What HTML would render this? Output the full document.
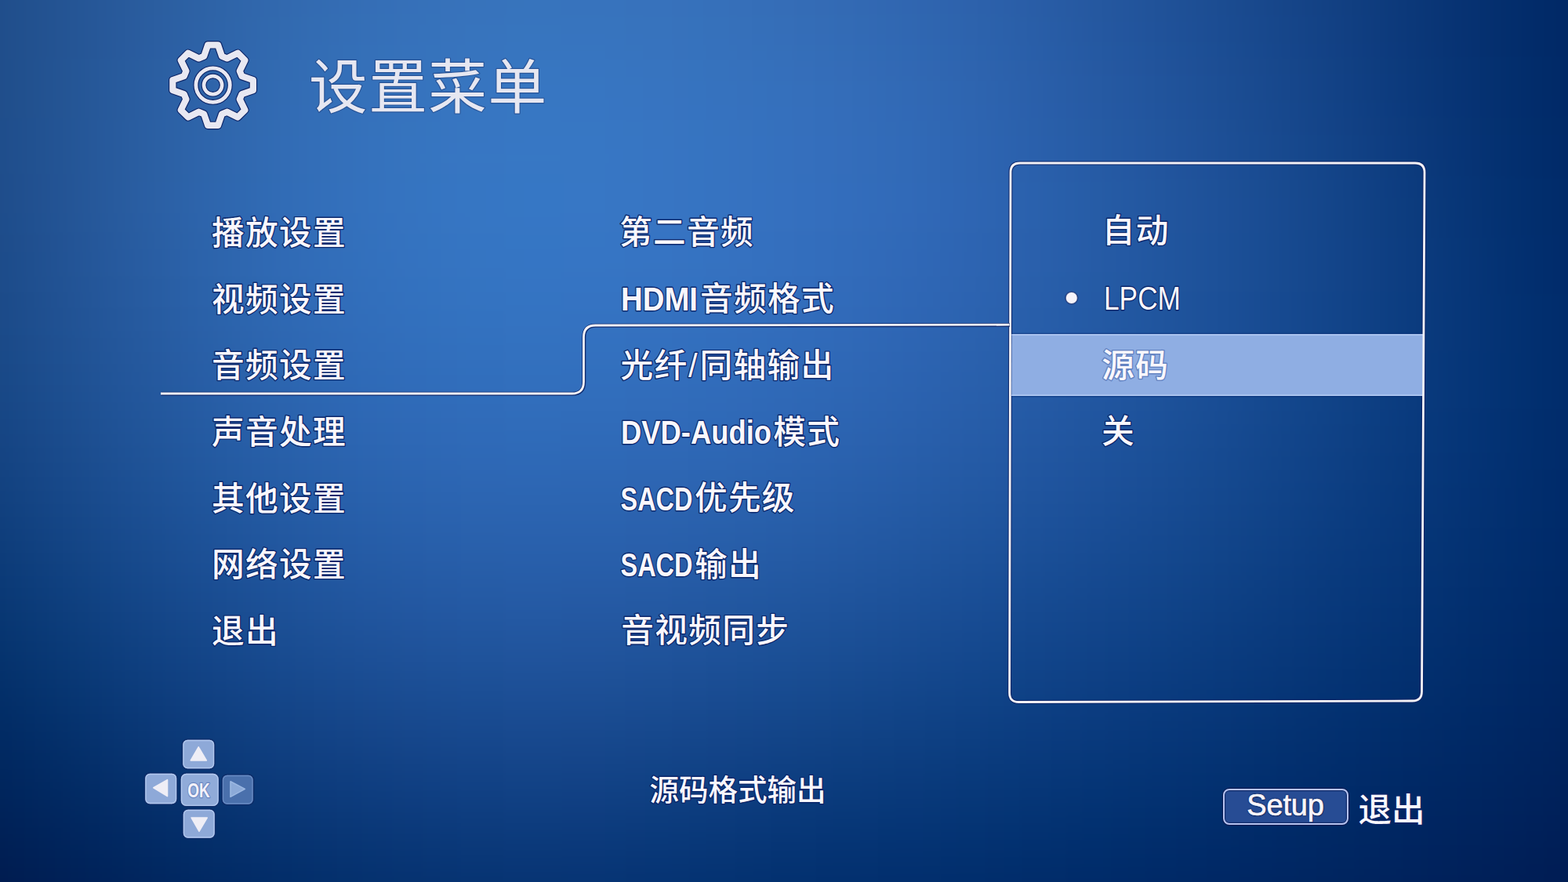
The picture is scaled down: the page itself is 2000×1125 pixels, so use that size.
<!DOCTYPE html>
<html><head><meta charset="utf-8"><title>Setup Menu</title>
<style>
html,body{margin:0;padding:0;background:#062a66;}
body{width:2000px;height:1125px;overflow:hidden;position:relative;font-family:"Liberation Sans",sans-serif;}
#bg{position:absolute;left:0;top:0;width:2000px;height:1125px;background:#1c4a8c;}
svg{position:absolute;left:0;top:0;}
svg text{font-family:"Liberation Sans","Noto Sans CJK SC",sans-serif;paint-order:stroke;stroke-linejoin:round;}
.t{font-size:41.7px;font-weight:500;letter-spacing:1.3px;fill:#f9f7fc;stroke:#0a2468;stroke-opacity:.92;stroke-width:2.8px;}
.lb{font-weight:bold;letter-spacing:0;}
.lr{font-weight:normal;letter-spacing:0;}
.thl{font-size:41.7px;font-weight:500;letter-spacing:1.3px;fill:#f9f7fc;stroke:#5f7fbe;stroke-opacity:.9;stroke-width:3px;}
.tt{font-size:74.7px;font-weight:normal;letter-spacing:1.5px;fill:#e6e7f1;stroke:#20407e;stroke-opacity:.6;stroke-width:2.4px;}
.tb{font-size:37.5px;font-weight:500;fill:#f9f7fc;stroke:#0a2468;stroke-opacity:.92;stroke-width:2.8px;}
.tr{font-size:42.5px;font-weight:500;fill:#f9f7fc;stroke:#0a2468;stroke-opacity:.92;stroke-width:2.8px;}
.tok{font-size:26px;font-weight:bold;fill:#f4f1f9;stroke:#6c88c2;stroke-width:2.6px;}
#setup{position:absolute;left:1559.5px;top:1006px;width:156.5px;height:42.4px;line-height:39px;text-align:center;font-size:38px;color:#f8f5fa;
 border:2px solid #b6c2ef;border-radius:8px;background:#274c94;box-shadow:0 0 0 1.2px rgba(8,22,76,.8), inset 0 0 0 1.2px rgba(8,22,76,.55);
 -webkit-text-stroke:.7px #f8f5fa;letter-spacing:-.2px;text-indent:-.5px;
 text-shadow:0 0 1.5px #081a50,0 0 1.5px #081a50,0 0 2px #081a50,.5px .5px 1px #081a50;}
#sr{position:absolute;left:0;top:0;width:1px;height:1px;overflow:hidden;opacity:0;font-size:1px;pointer-events:none;}
</style></head><body>
<div id="bg"></div>
<svg width="2000" height="1125" viewBox="0 0 2000 1125">
<defs><filter id="bgb" filterUnits="userSpaceOnUse" x="-160" y="-150" width="2320" height="1425" color-interpolation-filters="sRGB"><feGaussianBlur stdDeviation="42"/></filter>
</defs>
<g filter="url(#bgb)" shape-rendering="crispEdges"><rect x="-160" y="-150" width="81" height="76" fill="#1e4b86"/><rect x="-80" y="-150" width="81" height="76" fill="#1f4c87"/><rect x="0" y="-150" width="81" height="76" fill="#23518f"/><rect x="80" y="-150" width="81" height="76" fill="#265796"/><rect x="160" y="-150" width="81" height="76" fill="#2a5d9e"/><rect x="240" y="-150" width="81" height="76" fill="#2e63a6"/><rect x="320" y="-150" width="81" height="76" fill="#3167ac"/><rect x="400" y="-150" width="81" height="76" fill="#336cb1"/><rect x="480" y="-150" width="81" height="76" fill="#356fb5"/><rect x="560" y="-150" width="81" height="76" fill="#3671b8"/><rect x="640" y="-150" width="81" height="76" fill="#3772ba"/><rect x="720" y="-150" width="81" height="76" fill="#3671ba"/><rect x="800" y="-150" width="81" height="76" fill="#3670b9"/><rect x="880" y="-150" width="81" height="76" fill="#356eb7"/><rect x="960" y="-150" width="81" height="76" fill="#346bb4"/><rect x="1040" y="-150" width="81" height="76" fill="#3268b1"/><rect x="1120" y="-150" width="81" height="76" fill="#2f65ae"/><rect x="1200" y="-150" width="81" height="76" fill="#2c61a9"/><rect x="1280" y="-150" width="81" height="76" fill="#285ca4"/><rect x="1360" y="-150" width="81" height="76" fill="#24569d"/><rect x="1440" y="-150" width="81" height="76" fill="#1f5096"/><rect x="1520" y="-150" width="81" height="76" fill="#1a4a8f"/><rect x="1600" y="-150" width="81" height="76" fill="#154487"/><rect x="1680" y="-150" width="81" height="76" fill="#103e7f"/><rect x="1760" y="-150" width="81" height="76" fill="#0b3777"/><rect x="1840" y="-150" width="81" height="76" fill="#063170"/><rect x="1920" y="-150" width="81" height="76" fill="#022b69"/><rect x="2000" y="-150" width="81" height="76" fill="#002662"/><rect x="2080" y="-150" width="81" height="76" fill="#002561"/><rect x="-160" y="-75" width="81" height="76" fill="#1e4a85"/><rect x="-80" y="-75" width="81" height="76" fill="#1f4c87"/><rect x="0" y="-75" width="81" height="76" fill="#22518f"/><rect x="80" y="-75" width="81" height="76" fill="#265797"/><rect x="160" y="-75" width="81" height="76" fill="#2a5d9f"/><rect x="240" y="-75" width="81" height="76" fill="#2e63a6"/><rect x="320" y="-75" width="81" height="76" fill="#3168ad"/><rect x="400" y="-75" width="81" height="76" fill="#346cb2"/><rect x="480" y="-75" width="81" height="76" fill="#356fb7"/><rect x="560" y="-75" width="81" height="76" fill="#3671b9"/><rect x="640" y="-75" width="81" height="76" fill="#3772bb"/><rect x="720" y="-75" width="81" height="76" fill="#3772bb"/><rect x="800" y="-75" width="81" height="76" fill="#3671ba"/><rect x="880" y="-75" width="81" height="76" fill="#356fb8"/><rect x="960" y="-75" width="81" height="76" fill="#346cb5"/><rect x="1040" y="-75" width="81" height="76" fill="#3269b2"/><rect x="1120" y="-75" width="81" height="76" fill="#2f65af"/><rect x="1200" y="-75" width="81" height="76" fill="#2c61aa"/><rect x="1280" y="-75" width="81" height="76" fill="#285ca5"/><rect x="1360" y="-75" width="81" height="76" fill="#24579e"/><rect x="1440" y="-75" width="81" height="76" fill="#1f5197"/><rect x="1520" y="-75" width="81" height="76" fill="#1b4b90"/><rect x="1600" y="-75" width="81" height="76" fill="#164488"/><rect x="1680" y="-75" width="81" height="76" fill="#103e80"/><rect x="1760" y="-75" width="81" height="76" fill="#0b3778"/><rect x="1840" y="-75" width="81" height="76" fill="#063170"/><rect x="1920" y="-75" width="81" height="76" fill="#022b69"/><rect x="2000" y="-75" width="81" height="76" fill="#002662"/><rect x="2080" y="-75" width="81" height="76" fill="#002561"/><rect x="-160" y="0" width="81" height="76" fill="#1d4a85"/><rect x="-80" y="0" width="81" height="76" fill="#1e4b87"/><rect x="0" y="0" width="81" height="76" fill="#22518f"/><rect x="80" y="0" width="81" height="76" fill="#265798"/><rect x="160" y="0" width="81" height="76" fill="#2b5ea1"/><rect x="240" y="0" width="81" height="76" fill="#2e64a9"/><rect x="320" y="0" width="81" height="76" fill="#326ab0"/><rect x="400" y="0" width="81" height="76" fill="#346eb6"/><rect x="480" y="0" width="81" height="76" fill="#3671ba"/><rect x="560" y="0" width="81" height="76" fill="#3774bd"/><rect x="640" y="0" width="81" height="76" fill="#3775be"/><rect x="720" y="0" width="81" height="76" fill="#3774be"/><rect x="800" y="0" width="81" height="76" fill="#3773bd"/><rect x="880" y="0" width="81" height="76" fill="#3671bb"/><rect x="960" y="0" width="81" height="76" fill="#356eb8"/><rect x="1040" y="0" width="81" height="76" fill="#336bb5"/><rect x="1120" y="0" width="81" height="76" fill="#3067b2"/><rect x="1200" y="0" width="81" height="76" fill="#2d63ad"/><rect x="1280" y="0" width="81" height="76" fill="#295ea8"/><rect x="1360" y="0" width="81" height="76" fill="#2558a1"/><rect x="1440" y="0" width="81" height="76" fill="#20529a"/><rect x="1520" y="0" width="81" height="76" fill="#1b4c92"/><rect x="1600" y="0" width="81" height="76" fill="#16468a"/><rect x="1680" y="0" width="81" height="76" fill="#113f82"/><rect x="1760" y="0" width="81" height="76" fill="#0b3879"/><rect x="1840" y="0" width="81" height="76" fill="#063171"/><rect x="1920" y="0" width="81" height="76" fill="#012b69"/><rect x="2000" y="0" width="81" height="76" fill="#002663"/><rect x="2080" y="0" width="81" height="76" fill="#002561"/><rect x="-160" y="75" width="81" height="76" fill="#1c4985"/><rect x="-80" y="75" width="81" height="76" fill="#1d4b87"/><rect x="0" y="75" width="81" height="76" fill="#22518f"/><rect x="80" y="75" width="81" height="76" fill="#265899"/><rect x="160" y="75" width="81" height="76" fill="#2b5fa3"/><rect x="240" y="75" width="81" height="76" fill="#2f65ab"/><rect x="320" y="75" width="81" height="76" fill="#326bb3"/><rect x="400" y="75" width="81" height="76" fill="#3470b9"/><rect x="480" y="75" width="81" height="76" fill="#3673bd"/><rect x="560" y="75" width="81" height="76" fill="#3775c0"/><rect x="640" y="75" width="81" height="76" fill="#3776c2"/><rect x="720" y="75" width="81" height="76" fill="#3776c2"/><rect x="800" y="75" width="81" height="76" fill="#3774c0"/><rect x="880" y="75" width="81" height="76" fill="#3672be"/><rect x="960" y="75" width="81" height="76" fill="#3570bc"/><rect x="1040" y="75" width="81" height="76" fill="#346db9"/><rect x="1120" y="75" width="81" height="76" fill="#3169b5"/><rect x="1200" y="75" width="81" height="76" fill="#2e65b0"/><rect x="1280" y="75" width="81" height="76" fill="#2a5faa"/><rect x="1360" y="75" width="81" height="76" fill="#265aa3"/><rect x="1440" y="75" width="81" height="76" fill="#21549c"/><rect x="1520" y="75" width="81" height="76" fill="#1c4e94"/><rect x="1600" y="75" width="81" height="76" fill="#17478c"/><rect x="1680" y="75" width="81" height="76" fill="#114084"/><rect x="1760" y="75" width="81" height="76" fill="#0b397b"/><rect x="1840" y="75" width="81" height="76" fill="#063272"/><rect x="1920" y="75" width="81" height="76" fill="#012c6a"/><rect x="2000" y="75" width="81" height="76" fill="#002663"/><rect x="2080" y="75" width="81" height="76" fill="#002562"/><rect x="-160" y="150" width="81" height="76" fill="#1c4984"/><rect x="-80" y="150" width="81" height="76" fill="#1d4a87"/><rect x="0" y="150" width="81" height="76" fill="#215190"/><rect x="80" y="150" width="81" height="76" fill="#26589a"/><rect x="160" y="150" width="81" height="76" fill="#2b60a4"/><rect x="240" y="150" width="81" height="76" fill="#2f66ad"/><rect x="320" y="150" width="81" height="76" fill="#326cb5"/><rect x="400" y="150" width="81" height="76" fill="#3470bb"/><rect x="480" y="150" width="81" height="76" fill="#3674bf"/><rect x="560" y="150" width="81" height="76" fill="#3777c3"/><rect x="640" y="150" width="81" height="76" fill="#3778c4"/><rect x="720" y="150" width="81" height="76" fill="#3777c4"/><rect x="800" y="150" width="81" height="76" fill="#3775c3"/><rect x="880" y="150" width="81" height="76" fill="#3673c0"/><rect x="960" y="150" width="81" height="76" fill="#3570be"/><rect x="1040" y="150" width="81" height="76" fill="#346dbb"/><rect x="1120" y="150" width="81" height="76" fill="#316ab7"/><rect x="1200" y="150" width="81" height="76" fill="#2e65b2"/><rect x="1280" y="150" width="81" height="76" fill="#2a60ac"/><rect x="1360" y="150" width="81" height="76" fill="#265ba5"/><rect x="1440" y="150" width="81" height="76" fill="#22559e"/><rect x="1520" y="150" width="81" height="76" fill="#1d4f96"/><rect x="1600" y="150" width="81" height="76" fill="#17498e"/><rect x="1680" y="150" width="81" height="76" fill="#124286"/><rect x="1760" y="150" width="81" height="76" fill="#0c3a7d"/><rect x="1840" y="150" width="81" height="76" fill="#063374"/><rect x="1920" y="150" width="81" height="76" fill="#012d6c"/><rect x="2000" y="150" width="81" height="76" fill="#002765"/><rect x="2080" y="150" width="81" height="76" fill="#002663"/><rect x="-160" y="225" width="81" height="76" fill="#1b4884"/><rect x="-80" y="225" width="81" height="76" fill="#1c4a86"/><rect x="0" y="225" width="81" height="76" fill="#215090"/><rect x="80" y="225" width="81" height="76" fill="#26589a"/><rect x="160" y="225" width="81" height="76" fill="#2b60a5"/><rect x="240" y="225" width="81" height="76" fill="#2e66ae"/><rect x="320" y="225" width="81" height="76" fill="#316cb6"/><rect x="400" y="225" width="81" height="76" fill="#3470bc"/><rect x="480" y="225" width="81" height="76" fill="#3574c0"/><rect x="560" y="225" width="81" height="76" fill="#3676c4"/><rect x="640" y="225" width="81" height="76" fill="#3677c5"/><rect x="720" y="225" width="81" height="76" fill="#3777c5"/><rect x="800" y="225" width="81" height="76" fill="#3775c3"/><rect x="880" y="225" width="81" height="76" fill="#3673c1"/><rect x="960" y="225" width="81" height="76" fill="#3570bf"/><rect x="1040" y="225" width="81" height="76" fill="#336dbc"/><rect x="1120" y="225" width="81" height="76" fill="#316ab8"/><rect x="1200" y="225" width="81" height="76" fill="#2e65b3"/><rect x="1280" y="225" width="81" height="76" fill="#2a61ad"/><rect x="1360" y="225" width="81" height="76" fill="#265ca6"/><rect x="1440" y="225" width="81" height="76" fill="#22569f"/><rect x="1520" y="225" width="81" height="76" fill="#1d5098"/><rect x="1600" y="225" width="81" height="76" fill="#184a90"/><rect x="1680" y="225" width="81" height="76" fill="#124387"/><rect x="1760" y="225" width="81" height="76" fill="#0c3c7e"/><rect x="1840" y="225" width="81" height="76" fill="#063475"/><rect x="1920" y="225" width="81" height="76" fill="#012e6d"/><rect x="2000" y="225" width="81" height="76" fill="#002866"/><rect x="2080" y="225" width="81" height="76" fill="#002664"/><rect x="-160" y="300" width="81" height="76" fill="#194783"/><rect x="-80" y="300" width="81" height="76" fill="#1a4885"/><rect x="0" y="300" width="81" height="76" fill="#1f4f8f"/><rect x="80" y="300" width="81" height="76" fill="#25579a"/><rect x="160" y="300" width="81" height="76" fill="#295ea4"/><rect x="240" y="300" width="81" height="76" fill="#2d65ad"/><rect x="320" y="300" width="81" height="76" fill="#306ab5"/><rect x="400" y="300" width="81" height="76" fill="#326fbb"/><rect x="480" y="300" width="81" height="76" fill="#3472c0"/><rect x="560" y="300" width="81" height="76" fill="#3575c2"/><rect x="640" y="300" width="81" height="76" fill="#3575c4"/><rect x="720" y="300" width="81" height="76" fill="#3675c4"/><rect x="800" y="300" width="81" height="76" fill="#3674c3"/><rect x="880" y="300" width="81" height="76" fill="#3572c1"/><rect x="960" y="300" width="81" height="76" fill="#346fbe"/><rect x="1040" y="300" width="81" height="76" fill="#326cbb"/><rect x="1120" y="300" width="81" height="76" fill="#3068b7"/><rect x="1200" y="300" width="81" height="76" fill="#2d64b2"/><rect x="1280" y="300" width="81" height="76" fill="#2a60ac"/><rect x="1360" y="300" width="81" height="76" fill="#265ba6"/><rect x="1440" y="300" width="81" height="76" fill="#21569f"/><rect x="1520" y="300" width="81" height="76" fill="#1c5098"/><rect x="1600" y="300" width="81" height="76" fill="#174a90"/><rect x="1680" y="300" width="81" height="76" fill="#124388"/><rect x="1760" y="300" width="81" height="76" fill="#0c3c7f"/><rect x="1840" y="300" width="81" height="76" fill="#063577"/><rect x="1920" y="300" width="81" height="76" fill="#012e6e"/><rect x="2000" y="300" width="81" height="76" fill="#002867"/><rect x="2080" y="300" width="81" height="76" fill="#002765"/><rect x="-160" y="375" width="81" height="76" fill="#174581"/><rect x="-80" y="375" width="81" height="76" fill="#194784"/><rect x="0" y="375" width="81" height="76" fill="#1e4e8e"/><rect x="80" y="375" width="81" height="76" fill="#235598"/><rect x="160" y="375" width="81" height="76" fill="#275ca2"/><rect x="240" y="375" width="81" height="76" fill="#2b63ab"/><rect x="320" y="375" width="81" height="76" fill="#2e68b3"/><rect x="400" y="375" width="81" height="76" fill="#316cb9"/><rect x="480" y="375" width="81" height="76" fill="#3270bd"/><rect x="560" y="375" width="81" height="76" fill="#3372c0"/><rect x="640" y="375" width="81" height="76" fill="#3473c1"/><rect x="720" y="375" width="81" height="76" fill="#3472c1"/><rect x="800" y="375" width="81" height="76" fill="#3471c0"/><rect x="880" y="375" width="81" height="76" fill="#336fbe"/><rect x="960" y="375" width="81" height="76" fill="#326dbc"/><rect x="1040" y="375" width="81" height="76" fill="#316ab9"/><rect x="1120" y="375" width="81" height="76" fill="#2e66b4"/><rect x="1200" y="375" width="81" height="76" fill="#2c63b0"/><rect x="1280" y="375" width="81" height="76" fill="#285eaa"/><rect x="1360" y="375" width="81" height="76" fill="#245aa4"/><rect x="1440" y="375" width="81" height="76" fill="#20559e"/><rect x="1520" y="375" width="81" height="76" fill="#1b4f97"/><rect x="1600" y="375" width="81" height="76" fill="#164990"/><rect x="1680" y="375" width="81" height="76" fill="#114388"/><rect x="1760" y="375" width="81" height="76" fill="#0b3c7f"/><rect x="1840" y="375" width="81" height="76" fill="#063577"/><rect x="1920" y="375" width="81" height="76" fill="#012f6f"/><rect x="2000" y="375" width="81" height="76" fill="#002968"/><rect x="2080" y="375" width="81" height="76" fill="#002766"/><rect x="-160" y="450" width="81" height="76" fill="#15437f"/><rect x="-80" y="450" width="81" height="76" fill="#164582"/><rect x="0" y="450" width="81" height="76" fill="#1b4c8c"/><rect x="80" y="450" width="81" height="76" fill="#205396"/><rect x="160" y="450" width="81" height="76" fill="#25599f"/><rect x="240" y="450" width="81" height="76" fill="#295fa8"/><rect x="320" y="450" width="81" height="76" fill="#2c65af"/><rect x="400" y="450" width="81" height="76" fill="#2e69b6"/><rect x="480" y="450" width="81" height="76" fill="#306cba"/><rect x="560" y="450" width="81" height="76" fill="#316ebc"/><rect x="640" y="450" width="81" height="76" fill="#326fbd"/><rect x="720" y="450" width="81" height="76" fill="#326fbd"/><rect x="800" y="450" width="81" height="76" fill="#326ebc"/><rect x="880" y="450" width="81" height="76" fill="#316cbb"/><rect x="960" y="450" width="81" height="76" fill="#306ab8"/><rect x="1040" y="450" width="81" height="76" fill="#2e67b5"/><rect x="1120" y="450" width="81" height="76" fill="#2c63b1"/><rect x="1200" y="450" width="81" height="76" fill="#2960ac"/><rect x="1280" y="450" width="81" height="76" fill="#265ca7"/><rect x="1360" y="450" width="81" height="76" fill="#2257a2"/><rect x="1440" y="450" width="81" height="76" fill="#1e539c"/><rect x="1520" y="450" width="81" height="76" fill="#194d95"/><rect x="1600" y="450" width="81" height="76" fill="#14488e"/><rect x="1680" y="450" width="81" height="76" fill="#0f4286"/><rect x="1760" y="450" width="81" height="76" fill="#0a3b7f"/><rect x="1840" y="450" width="81" height="76" fill="#053577"/><rect x="1920" y="450" width="81" height="76" fill="#012f6f"/><rect x="2000" y="450" width="81" height="76" fill="#002968"/><rect x="2080" y="450" width="81" height="76" fill="#002866"/><rect x="-160" y="525" width="81" height="76" fill="#12407c"/><rect x="-80" y="525" width="81" height="76" fill="#13417f"/><rect x="0" y="525" width="81" height="76" fill="#184888"/><rect x="80" y="525" width="81" height="76" fill="#1d4f92"/><rect x="160" y="525" width="81" height="76" fill="#21569b"/><rect x="240" y="525" width="81" height="76" fill="#255ca4"/><rect x="320" y="525" width="81" height="76" fill="#2961ab"/><rect x="400" y="525" width="81" height="76" fill="#2c65b1"/><rect x="480" y="525" width="81" height="76" fill="#2e68b5"/><rect x="560" y="525" width="81" height="76" fill="#2f6ab8"/><rect x="640" y="525" width="81" height="76" fill="#2f6bb9"/><rect x="720" y="525" width="81" height="76" fill="#2f6ab8"/><rect x="800" y="525" width="81" height="76" fill="#2f69b7"/><rect x="880" y="525" width="81" height="76" fill="#2e68b6"/><rect x="960" y="525" width="81" height="76" fill="#2d65b3"/><rect x="1040" y="525" width="81" height="76" fill="#2b63b0"/><rect x="1120" y="525" width="81" height="76" fill="#2960ac"/><rect x="1200" y="525" width="81" height="76" fill="#265ca8"/><rect x="1280" y="525" width="81" height="76" fill="#2358a3"/><rect x="1360" y="525" width="81" height="76" fill="#1f549e"/><rect x="1440" y="525" width="81" height="76" fill="#1b5098"/><rect x="1520" y="525" width="81" height="76" fill="#174b92"/><rect x="1600" y="525" width="81" height="76" fill="#12458b"/><rect x="1680" y="525" width="81" height="76" fill="#0e4084"/><rect x="1760" y="525" width="81" height="76" fill="#093a7d"/><rect x="1840" y="525" width="81" height="76" fill="#043476"/><rect x="1920" y="525" width="81" height="76" fill="#012e6e"/><rect x="2000" y="525" width="81" height="76" fill="#002967"/><rect x="2080" y="525" width="81" height="76" fill="#002766"/><rect x="-160" y="600" width="81" height="76" fill="#0e3c78"/><rect x="-80" y="600" width="81" height="76" fill="#0f3e7a"/><rect x="0" y="600" width="81" height="76" fill="#144484"/><rect x="80" y="600" width="81" height="76" fill="#194b8d"/><rect x="160" y="600" width="81" height="76" fill="#1d5196"/><rect x="240" y="600" width="81" height="76" fill="#21579e"/><rect x="320" y="600" width="81" height="76" fill="#255ca5"/><rect x="400" y="600" width="81" height="76" fill="#2860ab"/><rect x="480" y="600" width="81" height="76" fill="#2a63af"/><rect x="560" y="600" width="81" height="76" fill="#2c65b2"/><rect x="640" y="600" width="81" height="76" fill="#2c65b2"/><rect x="720" y="600" width="81" height="76" fill="#2c65b2"/><rect x="800" y="600" width="81" height="76" fill="#2c64b1"/><rect x="880" y="600" width="81" height="76" fill="#2b63af"/><rect x="960" y="600" width="81" height="76" fill="#2961ad"/><rect x="1040" y="600" width="81" height="76" fill="#275eaa"/><rect x="1120" y="600" width="81" height="76" fill="#255ba6"/><rect x="1200" y="600" width="81" height="76" fill="#2258a2"/><rect x="1280" y="600" width="81" height="76" fill="#1f549e"/><rect x="1360" y="600" width="81" height="76" fill="#1c5099"/><rect x="1440" y="600" width="81" height="76" fill="#184c94"/><rect x="1520" y="600" width="81" height="76" fill="#14488e"/><rect x="1600" y="600" width="81" height="76" fill="#104388"/><rect x="1680" y="600" width="81" height="76" fill="#0c3d81"/><rect x="1760" y="600" width="81" height="76" fill="#07387b"/><rect x="1840" y="600" width="81" height="76" fill="#043274"/><rect x="1920" y="600" width="81" height="76" fill="#002d6d"/><rect x="2000" y="600" width="81" height="76" fill="#002866"/><rect x="2080" y="600" width="81" height="76" fill="#002765"/><rect x="-160" y="675" width="81" height="76" fill="#0a3772"/><rect x="-80" y="675" width="81" height="76" fill="#0b3975"/><rect x="0" y="675" width="81" height="76" fill="#0f3f7e"/><rect x="80" y="675" width="81" height="76" fill="#144687"/><rect x="160" y="675" width="81" height="76" fill="#194c90"/><rect x="240" y="675" width="81" height="76" fill="#1d5198"/><rect x="320" y="675" width="81" height="76" fill="#21569e"/><rect x="400" y="675" width="81" height="76" fill="#245aa4"/><rect x="480" y="675" width="81" height="76" fill="#265da8"/><rect x="560" y="675" width="81" height="76" fill="#285faa"/><rect x="640" y="675" width="81" height="76" fill="#285fab"/><rect x="720" y="675" width="81" height="76" fill="#285fab"/><rect x="800" y="675" width="81" height="76" fill="#285eaa"/><rect x="880" y="675" width="81" height="76" fill="#265da8"/><rect x="960" y="675" width="81" height="76" fill="#255ba5"/><rect x="1040" y="675" width="81" height="76" fill="#2358a2"/><rect x="1120" y="675" width="81" height="76" fill="#20569f"/><rect x="1200" y="675" width="81" height="76" fill="#1d529b"/><rect x="1280" y="675" width="81" height="76" fill="#1a4f97"/><rect x="1360" y="675" width="81" height="76" fill="#174b93"/><rect x="1440" y="675" width="81" height="76" fill="#14488e"/><rect x="1520" y="675" width="81" height="76" fill="#114489"/><rect x="1600" y="675" width="81" height="76" fill="#0d3f83"/><rect x="1680" y="675" width="81" height="76" fill="#093a7e"/><rect x="1760" y="675" width="81" height="76" fill="#063677"/><rect x="1840" y="675" width="81" height="76" fill="#033171"/><rect x="1920" y="675" width="81" height="76" fill="#002c6b"/><rect x="2000" y="675" width="81" height="76" fill="#002765"/><rect x="2080" y="675" width="81" height="76" fill="#002663"/><rect x="-160" y="750" width="81" height="76" fill="#05326c"/><rect x="-80" y="750" width="81" height="76" fill="#06346e"/><rect x="0" y="750" width="81" height="76" fill="#0a3a77"/><rect x="80" y="750" width="81" height="76" fill="#0f4080"/><rect x="160" y="750" width="81" height="76" fill="#144688"/><rect x="240" y="750" width="81" height="76" fill="#184b90"/><rect x="320" y="750" width="81" height="76" fill="#1c5096"/><rect x="400" y="750" width="81" height="76" fill="#1f549c"/><rect x="480" y="750" width="81" height="76" fill="#2256a0"/><rect x="560" y="750" width="81" height="76" fill="#2358a2"/><rect x="640" y="750" width="81" height="76" fill="#2459a3"/><rect x="720" y="750" width="81" height="76" fill="#2458a2"/><rect x="800" y="750" width="81" height="76" fill="#2358a1"/><rect x="880" y="750" width="81" height="76" fill="#21569f"/><rect x="960" y="750" width="81" height="76" fill="#1f549c"/><rect x="1040" y="750" width="81" height="76" fill="#1d529a"/><rect x="1120" y="750" width="81" height="76" fill="#1b4f97"/><rect x="1200" y="750" width="81" height="76" fill="#184c94"/><rect x="1280" y="750" width="81" height="76" fill="#154990"/><rect x="1360" y="750" width="81" height="76" fill="#13468c"/><rect x="1440" y="750" width="81" height="76" fill="#104388"/><rect x="1520" y="750" width="81" height="76" fill="#0d3f83"/><rect x="1600" y="750" width="81" height="76" fill="#0a3b7e"/><rect x="1680" y="750" width="81" height="76" fill="#073779"/><rect x="1760" y="750" width="81" height="76" fill="#043374"/><rect x="1840" y="750" width="81" height="76" fill="#022e6e"/><rect x="1920" y="750" width="81" height="76" fill="#002a68"/><rect x="2000" y="750" width="81" height="76" fill="#002662"/><rect x="2080" y="750" width="81" height="76" fill="#002461"/><rect x="-160" y="825" width="81" height="76" fill="#012d65"/><rect x="-80" y="825" width="81" height="76" fill="#022e67"/><rect x="0" y="825" width="81" height="76" fill="#06346f"/><rect x="80" y="825" width="81" height="76" fill="#0a3a78"/><rect x="160" y="825" width="81" height="76" fill="#0f3f80"/><rect x="240" y="825" width="81" height="76" fill="#134487"/><rect x="320" y="825" width="81" height="76" fill="#17498d"/><rect x="400" y="825" width="81" height="76" fill="#1a4c92"/><rect x="480" y="825" width="81" height="76" fill="#1c4f96"/><rect x="560" y="825" width="81" height="76" fill="#1d5198"/><rect x="640" y="825" width="81" height="76" fill="#1e5199"/><rect x="720" y="825" width="81" height="76" fill="#1e5199"/><rect x="800" y="825" width="81" height="76" fill="#1d5097"/><rect x="880" y="825" width="81" height="76" fill="#1b4e95"/><rect x="960" y="825" width="81" height="76" fill="#194d93"/><rect x="1040" y="825" width="81" height="76" fill="#174b90"/><rect x="1120" y="825" width="81" height="76" fill="#15488e"/><rect x="1200" y="825" width="81" height="76" fill="#12468b"/><rect x="1280" y="825" width="81" height="76" fill="#104388"/><rect x="1360" y="825" width="81" height="76" fill="#0e4085"/><rect x="1440" y="825" width="81" height="76" fill="#0b3d81"/><rect x="1520" y="825" width="81" height="76" fill="#093a7d"/><rect x="1600" y="825" width="81" height="76" fill="#073779"/><rect x="1680" y="825" width="81" height="76" fill="#043374"/><rect x="1760" y="825" width="81" height="76" fill="#03306f"/><rect x="1840" y="825" width="81" height="76" fill="#012c6a"/><rect x="1920" y="825" width="81" height="76" fill="#002865"/><rect x="2000" y="825" width="81" height="76" fill="#00245f"/><rect x="2080" y="825" width="81" height="76" fill="#00235e"/><rect x="-160" y="900" width="81" height="76" fill="#00275e"/><rect x="-80" y="900" width="81" height="76" fill="#002860"/><rect x="0" y="900" width="81" height="76" fill="#022d67"/><rect x="80" y="900" width="81" height="76" fill="#06336f"/><rect x="160" y="900" width="81" height="76" fill="#0a3877"/><rect x="240" y="900" width="81" height="76" fill="#0e3d7d"/><rect x="320" y="900" width="81" height="76" fill="#114183"/><rect x="400" y="900" width="81" height="76" fill="#144488"/><rect x="480" y="900" width="81" height="76" fill="#16478c"/><rect x="560" y="900" width="81" height="76" fill="#17488e"/><rect x="640" y="900" width="81" height="76" fill="#18498f"/><rect x="720" y="900" width="81" height="76" fill="#18498e"/><rect x="800" y="900" width="81" height="76" fill="#16488d"/><rect x="880" y="900" width="81" height="76" fill="#15468b"/><rect x="960" y="900" width="81" height="76" fill="#134589"/><rect x="1040" y="900" width="81" height="76" fill="#114386"/><rect x="1120" y="900" width="81" height="76" fill="#0f4184"/><rect x="1200" y="900" width="81" height="76" fill="#0d3f82"/><rect x="1280" y="900" width="81" height="76" fill="#0b3c80"/><rect x="1360" y="900" width="81" height="76" fill="#093a7d"/><rect x="1440" y="900" width="81" height="76" fill="#07377a"/><rect x="1520" y="900" width="81" height="76" fill="#063576"/><rect x="1600" y="900" width="81" height="76" fill="#043272"/><rect x="1680" y="900" width="81" height="76" fill="#022f6e"/><rect x="1760" y="900" width="81" height="76" fill="#012c6a"/><rect x="1840" y="900" width="81" height="76" fill="#002966"/><rect x="1920" y="900" width="81" height="76" fill="#002561"/><rect x="2000" y="900" width="81" height="76" fill="#00225c"/><rect x="2080" y="900" width="81" height="76" fill="#00215b"/><rect x="-160" y="975" width="81" height="76" fill="#002157"/><rect x="-80" y="975" width="81" height="76" fill="#002259"/><rect x="0" y="975" width="81" height="76" fill="#00275f"/><rect x="80" y="975" width="81" height="76" fill="#032c66"/><rect x="160" y="975" width="81" height="76" fill="#06316d"/><rect x="240" y="975" width="81" height="76" fill="#093573"/><rect x="320" y="975" width="81" height="76" fill="#0b3979"/><rect x="400" y="975" width="81" height="76" fill="#0d3c7d"/><rect x="480" y="975" width="81" height="76" fill="#0f3e81"/><rect x="560" y="975" width="81" height="76" fill="#104083"/><rect x="640" y="975" width="81" height="76" fill="#114184"/><rect x="720" y="975" width="81" height="76" fill="#114084"/><rect x="800" y="975" width="81" height="76" fill="#0f4082"/><rect x="880" y="975" width="81" height="76" fill="#0e3e81"/><rect x="960" y="975" width="81" height="76" fill="#0c3c7e"/><rect x="1040" y="975" width="81" height="76" fill="#0a3b7c"/><rect x="1120" y="975" width="81" height="76" fill="#09397b"/><rect x="1200" y="975" width="81" height="76" fill="#073879"/><rect x="1280" y="975" width="81" height="76" fill="#063677"/><rect x="1360" y="975" width="81" height="76" fill="#043475"/><rect x="1440" y="975" width="81" height="76" fill="#033272"/><rect x="1520" y="975" width="81" height="76" fill="#02306f"/><rect x="1600" y="975" width="81" height="76" fill="#012d6c"/><rect x="1680" y="975" width="81" height="76" fill="#002b69"/><rect x="1760" y="975" width="81" height="76" fill="#002865"/><rect x="1840" y="975" width="81" height="76" fill="#002661"/><rect x="1920" y="975" width="81" height="76" fill="#00235d"/><rect x="2000" y="975" width="81" height="76" fill="#001f58"/><rect x="2080" y="975" width="81" height="76" fill="#001e57"/><rect x="-160" y="1050" width="81" height="76" fill="#001c50"/><rect x="-80" y="1050" width="81" height="76" fill="#001d51"/><rect x="0" y="1050" width="81" height="76" fill="#002157"/><rect x="80" y="1050" width="81" height="76" fill="#00255d"/><rect x="160" y="1050" width="81" height="76" fill="#012a64"/><rect x="240" y="1050" width="81" height="76" fill="#032e69"/><rect x="320" y="1050" width="81" height="76" fill="#05316e"/><rect x="400" y="1050" width="81" height="76" fill="#073472"/><rect x="480" y="1050" width="81" height="76" fill="#083676"/><rect x="560" y="1050" width="81" height="76" fill="#0a3878"/><rect x="640" y="1050" width="81" height="76" fill="#0a3879"/><rect x="720" y="1050" width="81" height="76" fill="#0a3879"/><rect x="800" y="1050" width="81" height="76" fill="#083778"/><rect x="880" y="1050" width="81" height="76" fill="#073676"/><rect x="960" y="1050" width="81" height="76" fill="#053474"/><rect x="1040" y="1050" width="81" height="76" fill="#043373"/><rect x="1120" y="1050" width="81" height="76" fill="#033272"/><rect x="1200" y="1050" width="81" height="76" fill="#023170"/><rect x="1280" y="1050" width="81" height="76" fill="#012f6e"/><rect x="1360" y="1050" width="81" height="76" fill="#002e6d"/><rect x="1440" y="1050" width="81" height="76" fill="#002c6a"/><rect x="1520" y="1050" width="81" height="76" fill="#002a68"/><rect x="1600" y="1050" width="81" height="76" fill="#002865"/><rect x="1680" y="1050" width="81" height="76" fill="#002762"/><rect x="1760" y="1050" width="81" height="76" fill="#00245f"/><rect x="1840" y="1050" width="81" height="76" fill="#00225c"/><rect x="1920" y="1050" width="81" height="76" fill="#001f58"/><rect x="2000" y="1050" width="81" height="76" fill="#001c54"/><rect x="2080" y="1050" width="81" height="76" fill="#001b53"/><rect x="-160" y="1125" width="81" height="76" fill="#001649"/><rect x="-80" y="1125" width="81" height="76" fill="#00174a"/><rect x="0" y="1125" width="81" height="76" fill="#001b4f"/><rect x="80" y="1125" width="81" height="76" fill="#001f55"/><rect x="160" y="1125" width="81" height="76" fill="#00235b"/><rect x="240" y="1125" width="81" height="76" fill="#002660"/><rect x="320" y="1125" width="81" height="76" fill="#002964"/><rect x="400" y="1125" width="81" height="76" fill="#012c68"/><rect x="480" y="1125" width="81" height="76" fill="#032e6b"/><rect x="560" y="1125" width="81" height="76" fill="#032f6d"/><rect x="640" y="1125" width="81" height="76" fill="#04306e"/><rect x="720" y="1125" width="81" height="76" fill="#03306f"/><rect x="800" y="1125" width="81" height="76" fill="#022f6e"/><rect x="880" y="1125" width="81" height="76" fill="#012e6d"/><rect x="960" y="1125" width="81" height="76" fill="#002d6b"/><rect x="1040" y="1125" width="81" height="76" fill="#002c6a"/><rect x="1120" y="1125" width="81" height="76" fill="#002b69"/><rect x="1200" y="1125" width="81" height="76" fill="#002a68"/><rect x="1280" y="1125" width="81" height="76" fill="#002966"/><rect x="1360" y="1125" width="81" height="76" fill="#002865"/><rect x="1440" y="1125" width="81" height="76" fill="#002663"/><rect x="1520" y="1125" width="81" height="76" fill="#002561"/><rect x="1600" y="1125" width="81" height="76" fill="#00245f"/><rect x="1680" y="1125" width="81" height="76" fill="#00225c"/><rect x="1760" y="1125" width="81" height="76" fill="#002059"/><rect x="1840" y="1125" width="81" height="76" fill="#001e56"/><rect x="1920" y="1125" width="81" height="76" fill="#001c53"/><rect x="2000" y="1125" width="81" height="76" fill="#00194f"/><rect x="2080" y="1125" width="81" height="76" fill="#00184e"/><rect x="-160" y="1200" width="81" height="76" fill="#001447"/><rect x="-80" y="1200" width="81" height="76" fill="#001548"/><rect x="0" y="1200" width="81" height="76" fill="#00194d"/><rect x="80" y="1200" width="81" height="76" fill="#001d53"/><rect x="160" y="1200" width="81" height="76" fill="#002158"/><rect x="240" y="1200" width="81" height="76" fill="#00245d"/><rect x="320" y="1200" width="81" height="76" fill="#002761"/><rect x="400" y="1200" width="81" height="76" fill="#002a65"/><rect x="480" y="1200" width="81" height="76" fill="#012c68"/><rect x="560" y="1200" width="81" height="76" fill="#022d6a"/><rect x="640" y="1200" width="81" height="76" fill="#022e6b"/><rect x="720" y="1200" width="81" height="76" fill="#012e6c"/><rect x="800" y="1200" width="81" height="76" fill="#002d6b"/><rect x="880" y="1200" width="81" height="76" fill="#002c6a"/><rect x="960" y="1200" width="81" height="76" fill="#002b68"/><rect x="1040" y="1200" width="81" height="76" fill="#002a67"/><rect x="1120" y="1200" width="81" height="76" fill="#002966"/><rect x="1200" y="1200" width="81" height="76" fill="#002865"/><rect x="1280" y="1200" width="81" height="76" fill="#002764"/><rect x="1360" y="1200" width="81" height="76" fill="#002662"/><rect x="1440" y="1200" width="81" height="76" fill="#002561"/><rect x="1520" y="1200" width="81" height="76" fill="#00235f"/><rect x="1600" y="1200" width="81" height="76" fill="#00225d"/><rect x="1680" y="1200" width="81" height="76" fill="#00215a"/><rect x="1760" y="1200" width="81" height="76" fill="#001f58"/><rect x="1840" y="1200" width="81" height="76" fill="#001d55"/><rect x="1920" y="1200" width="81" height="76" fill="#001a51"/><rect x="2000" y="1200" width="81" height="76" fill="#00184e"/><rect x="2080" y="1200" width="81" height="76" fill="#00174d"/></g>
<!-- right panel -->
<path d="M1301 208 L1805 208 Q1817 208 1817 220 L1813.5 882 Q1813.5 894 1801.5 894 L1299.5 895.5 Q1287.5 895.5 1287.6 883.5 L1289 220 Q1289 208 1301 208Z" fill="none" stroke="#0c2264" stroke-opacity=".85" stroke-width="5"/>
<path d="M1290.5 426.3 L1815.8 426.3 L1815.4 505 L1290.3 505Z" fill="#8faee3"/>
<path d="M1290.5 425.4 L1815.8 425.4 M1290.3 505.8 L1815.4 505.8" stroke="#0a2c74" stroke-opacity=".55" stroke-width="1.2" fill="none"/>
<path d="M1290.5 427 L1815.8 427 M1290.3 504.3 L1815.4 504.3" stroke="#b6cdf5" stroke-width="1.4" fill="none"/>
<path d="M1301 208 L1805 208 Q1817 208 1817 220 L1813.5 882 Q1813.5 894 1801.5 894 L1299.5 895.5 Q1287.5 895.5 1287.6 883.5 L1289 220 Q1289 208 1301 208Z" fill="none" stroke="#f4f2f6" stroke-width="2.8"/>
<!-- selector line -->
<path d="M205 502 L729.5 502 Q744.5 502 744.5 487 L744.5 430 Q744.5 415 759.5 415 L1287.5 414.2" fill="none" stroke="#0c2264" stroke-opacity=".85" stroke-width="5" transform="translate(.3 .3)"/>
<path d="M205 502 L729.5 502 Q744.5 502 744.5 487 L744.5 430 Q744.5 415 759.5 415 L1287.5 414.2" fill="none" stroke="#f6f4f8" stroke-width="2.8"/>
<!-- bullet -->
<circle cx="1366.8" cy="380" r="7.8" fill="#f6f4fa" stroke="#10286a" stroke-opacity=".7" stroke-width="1.6"/>
<!-- gear -->
<g fill="none" stroke-linejoin="round">
<path d="M265.12 57.31 L278.08 57.31 L283.01 71.73 L289.60 74.46 L303.29 67.75 L312.45 76.91 L305.74 90.60 L308.47 97.19 L322.89 102.12 L322.89 115.08 L308.47 120.01 L305.74 126.60 L312.45 140.29 L303.29 149.45 L289.60 142.74 L283.01 145.47 L278.08 159.89 L265.12 159.89 L260.19 145.47 L253.60 142.74 L239.91 149.45 L230.75 140.29 L237.46 126.60 L234.73 120.01 L220.31 115.08 L220.31 102.12 L234.73 97.19 L237.46 90.60 L230.75 76.91 L239.91 67.75 L253.60 74.46 L260.19 71.73Z" stroke="#0c2264" stroke-opacity=".95" stroke-width="10.5"/>
<circle cx="271.6" cy="108.6" r="21.7" stroke="#0c2264" stroke-opacity=".95" stroke-width="7"/>
<circle cx="271.6" cy="108.6" r="11.6" stroke="#0c2264" stroke-opacity=".95" stroke-width="6.8"/>
<path d="M265.12 57.31 L278.08 57.31 L283.01 71.73 L289.60 74.46 L303.29 67.75 L312.45 76.91 L305.74 90.60 L308.47 97.19 L322.89 102.12 L322.89 115.08 L308.47 120.01 L305.74 126.60 L312.45 140.29 L303.29 149.45 L289.60 142.74 L283.01 145.47 L278.08 159.89 L265.12 159.89 L260.19 145.47 L253.60 142.74 L239.91 149.45 L230.75 140.29 L237.46 126.60 L234.73 120.01 L220.31 115.08 L220.31 102.12 L234.73 97.19 L237.46 90.60 L230.75 76.91 L239.91 67.75 L253.60 74.46 L260.19 71.73Z" stroke="#e8e8f2" stroke-width="8.2"/>
<circle cx="271.6" cy="108.6" r="21.7" stroke="#e8e8f2" stroke-width="4.8"/>
<circle cx="271.6" cy="108.6" r="11.6" stroke="#e8e8f2" stroke-width="4.6"/>
</g>
<!-- d-pad -->
<g stroke="#0c2a66" stroke-opacity=".9" stroke-width="1.6">
<rect x="232.5" y="943" width="41.5" height="38" rx="6.5" fill="#8ea9d8"/>
<rect x="184.5" y="986" width="41.5" height="40" rx="6.5" fill="#8ea9d8"/>
<rect x="230" y="986" width="49.5" height="42.8" rx="7.5" fill="#90abd9"/>
<rect x="283" y="988" width="40.5" height="38.5" rx="6.5" fill="#4a70ac"/>
<rect x="233" y="1032" width="41.5" height="37.5" rx="6.5" fill="#8ea9d8"/>
</g>
<g fill="none" stroke="#b2c8ee" stroke-width="1.3">
<rect x="234" y="944.5" width="38.5" height="35" rx="5.2"/>
<rect x="186" y="987.5" width="38.5" height="37" rx="5.2"/>
<rect x="231.5" y="987.5" width="46.5" height="39.8" rx="6.2"/>
<rect x="234.5" y="1033.5" width="38.5" height="34.5" rx="5.2"/>
</g>
<rect x="284.5" y="989.5" width="37.5" height="35.5" rx="5.2" fill="none" stroke="#6a8cc4" stroke-width="1.3"/>
<g fill="#efeef6" stroke="#efeef6" stroke-width="1.6" stroke-linejoin="round">
<path d="M253.2 952.8 L263.3 970 L243.3 970Z"/>
<path d="M195.8 1004.8 L213.5 994.6 L213.5 1015.6Z"/>
<path d="M254 1060.3 L244.2 1043 L264.2 1043Z"/>
</g>
<path d="M312.4 1006.4 L294 996.8 L294 1016.4Z" fill="#8caad8" stroke="#9cb8e2" stroke-width="1.6" stroke-linejoin="round"/>
<!-- text -->
<text class="tt" x="394" y="138.3">设置菜单</text>
<text class="t" x="270" y="311.7">播放设置</text>
<text class="t" x="270" y="396.5">视频设置</text>
<text class="t" x="270" y="481.4">音频设置</text>
<text class="t" x="270" y="566">声音处理</text>
<text class="t" x="270" y="650.6">其他设置</text>
<text class="t" x="270" y="735.3">网络设置</text>
<text class="t" x="270" y="819.9">退出</text>
<text class="t" x="790" y="311.1">第二音频</text>
<text class="t lb" x="792" y="396.1" font-size="42" textLength="98" lengthAdjust="spacingAndGlyphs">HDMI</text>
<text class="t" x="893" y="395.6">音频格式</text>
<text class="t" y="480.7"><tspan x="791.5">光纤</tspan><tspan x="878" letter-spacing="0">/</tspan><tspan x="892.5">同轴输出</tspan></text>
<text class="t lb" x="792" y="566" font-size="42" textLength="192" lengthAdjust="spacingAndGlyphs">DVD-Audio</text>
<text class="t" x="986.3" y="565.5">模式</text>
<text class="t lb" x="791.5" y="650.5" font-size="42" textLength="92" lengthAdjust="spacingAndGlyphs">SACD</text>
<text class="t" x="885.9" y="650">优先级</text>
<text class="t lb" x="791.5" y="735.2" font-size="42" textLength="92" lengthAdjust="spacingAndGlyphs">SACD</text>
<text class="t" x="885.9" y="734.7">输出</text>
<text class="t" x="792.3" y="819.3">音视频同步</text>
<text class="t" x="1405.8" y="309.2">自动</text>
<text class="t lr" x="1408" y="395.1" font-size="42.5" textLength="98" lengthAdjust="spacingAndGlyphs">LPCM</text>
<text class="thl" x="1405.3" y="480.5">源码</text>
<text class="t" x="1405" y="564.9">关</text>
<text class="tb" x="828.5" y="1021.2">源码格式输出</text>
<text class="tr" x="1732.4" y="1047.6">退出</text>
<text class="tok" x="239.3" y="1016.8" textLength="28.5" lengthAdjust="spacingAndGlyphs">OK</text>
</svg>
<div id="setup">Setup</div>
<div id="sr"><h1>设置菜单</h1>
<ul><li>播放设置</li><li>视频设置</li><li>音频设置</li><li>声音处理</li><li>其他设置</li><li>网络设置</li><li>退出</li></ul>
<ul><li>第二音频</li><li>HDMI音频格式</li><li>光纤/同轴输出</li><li>DVD-Audio模式</li><li>SACD优先级</li><li>SACD输出</li><li>音视频同步</li></ul>
<ul><li>自动</li><li>LPCM</li><li>源码</li><li>关</li></ul>
<p>源码格式输出</p><p>OK</p><p>Setup 退出</p></div>

</body></html>
